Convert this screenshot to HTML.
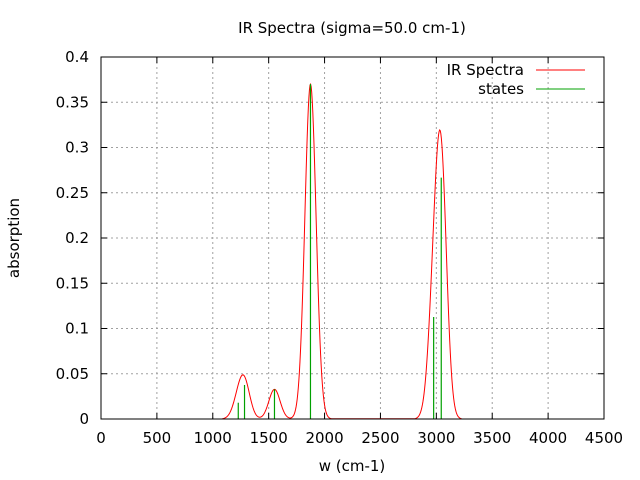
<!DOCTYPE html>
<html><head><meta charset="utf-8"><style>
body{margin:0;background:#fff}
svg{display:block;font-family:"DejaVu Sans","Liberation Sans",sans-serif}
</style></head><body>
<svg id="chart" width="640" height="480" xmlns="http://www.w3.org/2000/svg">
<rect width="640" height="480" fill="#fff"/>
<g id="grid"></g>
<g id="ticks"></g>
<g id="series"></g>
<rect x="101" y="57" width="503" height="362" fill="none" stroke="#000" stroke-width="1"/>
<text x="352" y="33" font-size="15" text-anchor="middle">IR Spectra (sigma=50.0 cm-1)</text>
<text x="352" y="471" font-size="15" text-anchor="middle">w (cm-1)</text>
<text x="19" y="238" font-size="15" text-anchor="middle" transform="rotate(-90 19 238)">absorption</text>
<g>
<text x="524" y="75" font-size="15" text-anchor="end">IR Spectra</text>
<line x1="536" y1="70" x2="585" y2="70" stroke="#f00"/>
<text x="524" y="94" font-size="15" text-anchor="end">states</text>
<line x1="536" y1="89" x2="585" y2="89" stroke="#00a000"/>
</g>
</svg>
<script>
const stateFreqs=[1228,1284,1552,1874,2976,3044];
const stateIntens=[0.018,0.0376,0.0328,0.370,0.1127,0.2667];
const sigma=50;
const xTicks=[0,500,1000,1500,2000,2500,3000,3500,4000,4500];
const yTicks=[0,0.05,0.1,0.15,0.2,0.25,0.3,0.35,0.4];
const yTickLabels=["0","0.05","0.1","0.15","0.2","0.25","0.3","0.35","0.4"];
const X0=101,X1=604,Y0=419,Y1=57;
const xs=v=>X0+(v-0)/4500*(X1-X0);
const ys=v=>Y0-(v/0.4)*(Y0-Y1);
const NS="http://www.w3.org/2000/svg";
function mk(t,a,p){const e=document.createElementNS(NS,t);for(const k in a)e.setAttribute(k,a[k]);p.appendChild(e);return e;}
const grid=document.getElementById('grid'),ticks=document.getElementById('ticks'),series=document.getElementById('series');
xTicks.forEach((v,i)=>{
  const x=xs(v);
  if(i>0&&i<xTicks.length-1){const g=mk('line',{x1:x,y1:Y1,x2:x,y2:Y0,stroke:'#a0a0a0','stroke-dasharray':'2,3'},grid);
  
  }
  const t=mk('line',{x1:x,y1:Y0,x2:x,y2:Y0-6,stroke:'#000'},ticks);
  
  
  const t2=mk('line',{x1:x,y1:Y1,x2:x,y2:Y1+6,stroke:'#000'},ticks);
  
  
  const l=mk('text',{x:x,y:Y0+24,'font-size':15,'text-anchor':'middle'},ticks);l.textContent=v;
  
  
});
yTicks.forEach((v,i)=>{
  const y=ys(v);
  if(i>0&&i<yTicks.length-1){const g=mk('line',{x1:X0,y1:y,x2:X1,y2:y,stroke:'#a0a0a0','stroke-dasharray':'2,3'},grid);
  
  }
  const t=mk('line',{x1:X0,y1:y,x2:X0+6,y2:y,stroke:'#000'},ticks);
  
  
  const t2=mk('line',{x1:X1,y1:y,x2:X1-6,y2:y,stroke:'#000'},ticks);
  
  
  const l=mk('text',{x:X0-12,y:y+5,'font-size':15,'text-anchor':'end'},ticks);l.textContent=yTickLabels[i];
  
  
});
let pts=[];
for(let w=900;w<=3300;w+=5){
  let s=0;stateFreqs.forEach((f,i)=>{s+=stateIntens[i]*Math.exp(-((w-f)**2)/(2*sigma*sigma));});
  if(s>0.0003)pts.push(xs(w).toFixed(2)+','+ys(s).toFixed(2));
}
const sp=mk('polyline',{points:pts.join(' '),fill:'none',stroke:'#f00','stroke-width':1},series);


stateFreqs.forEach((f,i)=>{
  const b=mk('line',{x1:xs(f),y1:Y0,x2:xs(f),y2:ys(stateIntens[i]),stroke:'#00a000','stroke-width':1.2},series);
  
  
});
</script>
</body></html>
